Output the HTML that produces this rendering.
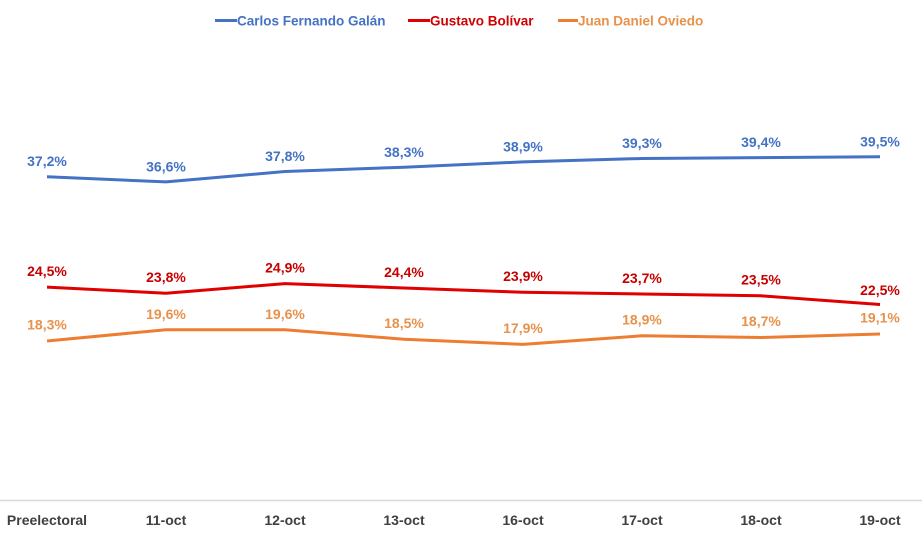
<!DOCTYPE html>
<html><head><meta charset="utf-8"><style>
html,body{margin:0;padding:0;background:#fff;}
svg{display:block;font-family:"Liberation Sans",Arial,sans-serif;font-weight:bold;}
</style></head><body>
<svg width="922" height="541" viewBox="0 0 922 541" xmlns="http://www.w3.org/2000/svg">
<rect width="922" height="541" fill="#fff"/>
<!-- legend -->
<line x1="215" y1="20.5" x2="237" y2="20.5" stroke="#4472C4" stroke-width="3"/>
<text x="237" y="25.5" font-size="13.5" fill="#4472C4">Carlos Fernando Galán</text>
<line x1="408" y1="20.5" x2="430" y2="20.5" stroke="#E00000" stroke-width="3"/>
<text x="430" y="25.5" font-size="13.5" fill="#D00000">Gustavo Bolívar</text>
<line x1="558" y1="20.5" x2="578" y2="20.5" stroke="#ED7D31" stroke-width="3"/>
<text x="578" y="25.5" font-size="13.5" fill="#E8914A">Juan Daniel Oviedo</text>
<!-- axis -->
<line x1="0" y1="500.5" x2="922" y2="500.5" stroke="#D9D9D9" stroke-width="1.5"/>
<!-- series -->
<polyline fill="none" stroke="#4472C4" stroke-width="3" stroke-linejoin="round" points="47,176.7 166,181.9 285,171.5 404,167.2 523,161.9 642,158.5 761,157.6 880,156.8"/>
<polyline fill="none" stroke="#E00000" stroke-width="3" stroke-linejoin="round" points="47,287.1 166,293.2 285,283.6 404,288 523,292.3 642,294 761,295.8 880,304.5"/>
<polyline fill="none" stroke="#ED7D31" stroke-width="3" stroke-linejoin="round" points="47,341 166,329.7 285,329.7 404,339.2 523,344.4 642,335.8 761,337.5 880,334"/>
<!-- labels blue -->
<g font-size="14" fill="#4472C4" text-anchor="middle">
<text x="47" y="166">37,2%</text>
<text x="166" y="171.5">36,6%</text>
<text x="285" y="161">37,8%</text>
<text x="404" y="157">38,3%</text>
<text x="523" y="151.5">38,9%</text>
<text x="642" y="148">39,3%</text>
<text x="761" y="147">39,4%</text>
<text x="880" y="146.5">39,5%</text>
</g>
<g font-size="14" fill="#C80000" text-anchor="middle">
<text x="47" y="276">24,5%</text>
<text x="166" y="282">23,8%</text>
<text x="285" y="272.5">24,9%</text>
<text x="404" y="277">24,4%</text>
<text x="523" y="281">23,9%</text>
<text x="642" y="283">23,7%</text>
<text x="761" y="284.5">23,5%</text>
<text x="880" y="295">22,5%</text>
</g>
<g font-size="14" fill="#E8914A" text-anchor="middle">
<text x="47" y="329.5">18,3%</text>
<text x="166" y="319">19,6%</text>
<text x="285" y="319">19,6%</text>
<text x="404" y="328">18,5%</text>
<text x="523" y="333">17,9%</text>
<text x="642" y="324.5">18,9%</text>
<text x="761" y="326">18,7%</text>
<text x="880" y="322.5">19,1%</text>
</g>
<!-- categories -->
<g font-size="14" fill="#404040" text-anchor="middle">
<text x="47" y="525">Preelectoral</text>
<text x="166" y="525">11-oct</text>
<text x="285" y="525">12-oct</text>
<text x="404" y="525">13-oct</text>
<text x="523" y="525">16-oct</text>
<text x="642" y="525">17-oct</text>
<text x="761" y="525">18-oct</text>
<text x="880" y="525">19-oct</text>
</g>
</svg>
</body></html>
